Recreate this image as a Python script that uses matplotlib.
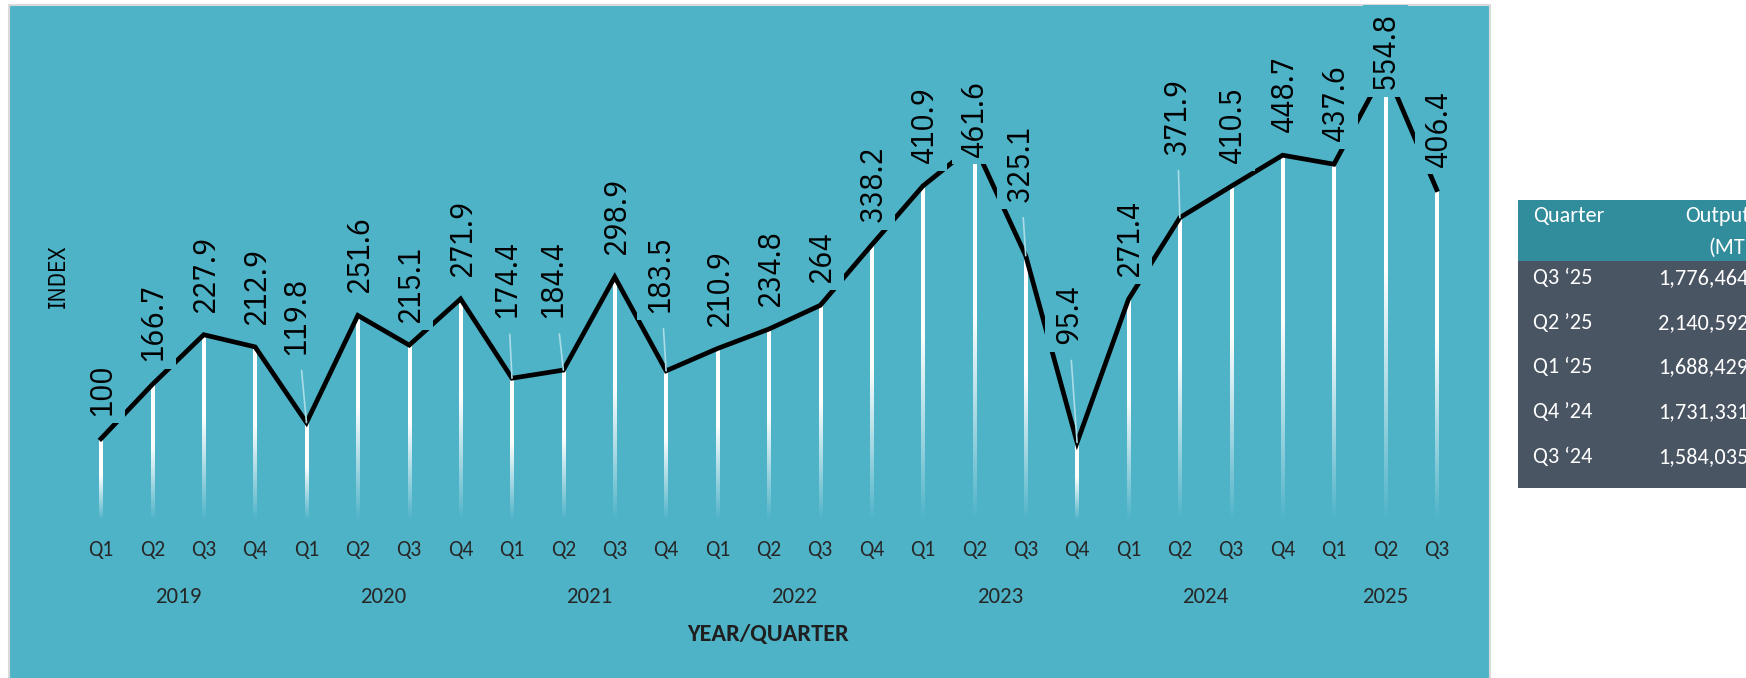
import numpy as np
import matplotlib
matplotlib.use('Agg')
import matplotlib.pyplot as plt
from matplotlib.patches import Rectangle
from matplotlib import transforms

# data
quarters = ['Q1', 'Q2', 'Q3', 'Q4'] * 6 + ['Q1', 'Q2', 'Q3']
years = ['2019', '2020', '2021', '2022', '2023', '2024', '2025']
year_counts = [4, 4, 4, 4, 4, 4, 3]
index_vals = [100, 166.7, 227.9, 212.9,
              119.8, 251.6, 215.1, 271.9,
              174.4, 184.4, 298.9, 183.5,
              210.9, 234.8, 264, 338.2,
              410.9, 461.6, 325.1, 95.4,
              271.4, 371.9, 410.5, 448.7,
              437.6, 554.8, 406.4]

tbl_quarters = ['Q3 \u201825', 'Q2 \u201925', 'Q1 \u201825', 'Q4 \u201924', 'Q3 \u201824']
tbl_output = ['1,776,464', '2,140,592', '1,688,429', '1,731,331', '1,584,035']

bg = '#4FB3C8'
W, H = 1746, 678

narrow = ['IBM Plex Sans Condensed', 'DejaVu Sans']
calibri = ['Carlito', 'Lato', 'Open Sans', 'DejaVu Sans']

fig = plt.figure(figsize=(W / 100, H / 100), dpi=100)

# chart panel
panel = Rectangle((9 / W, -0.02), (1490 - 9) / W, 1 - 5 / H + 0.02,
                  transform=fig.transFigure, facecolor=bg,
                  edgecolor='#D9D9D9', linewidth=1.5, zorder=-2)
fig.add_artist(panel)

# plot area: y=0 at 520px from top, 0.813 px per index point
ax = fig.add_axes([75.3 / W, (H - 520) / H, 1387.1 / W, 487.8 / H])
ax.set_facecolor('none')
for s in ax.spines.values():
    s.set_visible(False)

x = np.arange(len(index_vals))
v = np.array(index_vals, dtype=float)

# drop lines, white fading out towards the bottom
t = np.linspace(0, 1, 200)
grad = np.ones((200, 1, 4))
grad[:, 0, 3] = np.clip(t / 0.55, 0, 1)
hw = 0.033
for xi, vi in zip(x, v):
    ax.imshow(grad, extent=[xi - hw, xi + hw, 0, vi], origin='lower',
              aspect='auto', interpolation='bilinear', zorder=2)

ax.plot(x, v, color='black', linewidth=3.4, solid_joinstyle='miter', zorder=3)

ax.set_xlim(-0.5, 26.5)
ax.set_ylim(0, 600)
ax.set_xticks([])
ax.set_yticks([])

# data labels (some with leader lines), offsets in pixels
offsets = {4: (-10, 68), 8: (-5, 60), 9: (-10, 52), 11: (-6, 58),
           18: (-6, 54), 19: (-9, 98), 21: (-3, 63),
           17: (0, -12), 25: (0, -20)}
leaders = [4, 8, 9, 11, 18, 19, 21]
for i, vi in enumerate(index_vals):
    dx, dy = offsets.get(i, (1, 23))
    kw = {}
    if i in leaders:
        kw['arrowprops'] = dict(arrowstyle='-', color='#A9DCE7', lw=1.2,
                                shrinkA=6, shrinkB=0)
    ann = ax.annotate('{:g}'.format(vi), xy=(i, vi), xytext=(dx, dy),
                      textcoords='offset pixels', rotation=90,
                      ha='center', va='bottom', fontsize=23, family=narrow,
                      color='black', annotation_clip=False,
                      bbox=dict(boxstyle='square,pad=0.24', fc=bg, ec='none'),
                      zorder=5, **kw)
    # keep the label boxes inside the chart panel
    ann.set_clip_on(True)
    ann.set_clip_path(panel)

# category labels
tr = transforms.blended_transform_factory(ax.transData, fig.transFigure)
for i, q in enumerate(quarters):
    ax.text(i, 1 - 550 / H, q, transform=tr, ha='center', va='center',
            fontsize=15.5, family=calibri, color='#262626')

start = 0
for y, n in zip(years, year_counts):
    cx = start + (n - 1) / 2
    ax.text(cx, 1 - 597 / H, y, transform=tr, ha='center', va='center',
            fontsize=16.5, family=calibri, color='#262626')
    start += n

fig.text(768 / W, 1 - 634 / H, 'YEAR/QUARTER', ha='center', va='center',
         fontsize=17.5, family=calibri, fontweight='bold', color='#1F1F1F')
fig.text(58 / W, 1 - 276 / H, 'INDEX', ha='center', va='center', rotation=90,
         fontsize=17, family=narrow, color='black')

# table on the right
fig.add_artist(Rectangle((1518 / W, 1 - 261 / H), 300 / W, 61 / H,
                         transform=fig.transFigure, facecolor='#318C9C',
                         edgecolor='none'))
fig.add_artist(Rectangle((1518 / W, 1 - 488 / H), 300 / W, 227 / H,
                         transform=fig.transFigure, facecolor='#4A5563',
                         edgecolor='none'))
fig.text(1533 / W, 1 - 216 / H, 'Quarter', ha='left', va='center',
         fontsize=16, family=calibri, color='white')
fig.text(1685 / W, 1 - 216 / H, 'Output', ha='left', va='center',
         fontsize=16, family=calibri, color='white')
fig.text(1708 / W, 1 - 248 / H, '(MT)', ha='left', va='center',
         fontsize=16, family=calibri, color='white')
row_y = [278, 323, 367, 412, 457]
for ry, q, o in zip(row_y, tbl_quarters, tbl_output):
    fig.text(1533 / W, 1 - ry / H, q, ha='left', va='center',
             fontsize=16, family=calibri, color='white')
    fig.text(1658 / W, 1 - ry / H, o, ha='left', va='center',
             fontsize=16, family=calibri, color='white')

fig.savefig('out.png', dpi=100)
